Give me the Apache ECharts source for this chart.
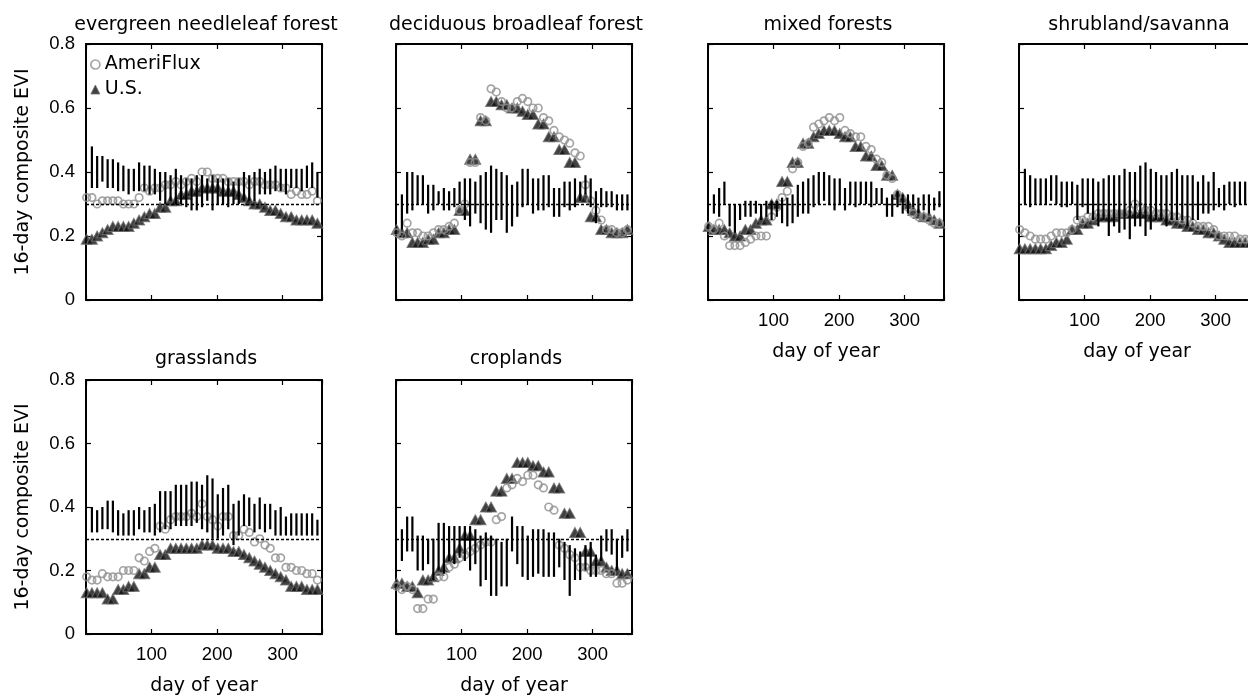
<!DOCTYPE html>
<html><head><meta charset="utf-8">
<script src="https://cdn.jsdelivr.net/npm/echarts@6/dist/echarts.min.js"></script>
<style>html,body{margin:0;padding:0;background:#fff}#c{width:1248px;height:695px}</style>
</head><body><div id="c"></div>
<script>
// ---------- data ----------
const days = [1,9,17,25,33,41,49,57,65,73,81,89,97,105,113,121,129,137,145,153,161,169,177,185,193,201,209,217,225,233,241,249,257,265,273,281,289,297,305,313,321,329,337,345,353];
const barDays = days.slice(1);
const titles = ['evergreen needleleaf forest','deciduous broadleaf forest','mixed forests','shrubland/savanna','grasslands','croplands'];
const xTickLabels = ['100','200','300'];
const yTickLabels = ['0','0.2','0.4','0.6','0.8'];
const xName = 'day of year';
const yName = '16-day composite EVI';
const seriesNames = ['AmeriFlux','U.S.'];

// evergreen needleleaf forest
const enfUS = [0.19,0.19,0.20,0.21,0.22,0.23,0.23,0.23,0.23,0.24,0.25,0.26,0.27,0.27,0.29,0.29,0.31,0.31,0.33,0.33,0.34,0.34,0.35,0.35,0.35,0.35,0.34,0.34,0.34,0.33,0.32,0.31,0.30,0.30,0.29,0.28,0.28,0.27,0.26,0.26,0.25,0.25,0.25,0.25,0.24];
const enfAF = [0.32,0.32,0.30,0.31,0.31,0.31,0.31,0.30,0.30,0.30,0.32,0.35,0.34,0.35,0.35,0.36,0.36,0.37,0.36,0.37,0.38,0.37,0.40,0.40,0.38,0.38,0.38,0.37,0.37,0.37,0.37,0.36,0.37,0.37,0.36,0.36,0.36,0.35,0.35,0.33,0.34,0.33,0.33,0.34,0.31];
const enfHi = [0.48,0.45,0.45,0.44,0.44,0.43,0.42,0.41,0.41,0.43,0.42,0.42,0.41,0.40,0.40,0.39,0.41,0.39,0.38,0.38,0.39,0.39,0.38,0.39,0.38,0.38,0.38,0.37,0.38,0.40,0.39,0.40,0.41,0.40,0.41,0.42,0.41,0.41,0.41,0.41,0.41,0.42,0.43,0.40];
const enfLo = [0.35,0.35,0.37,0.35,0.35,0.34,0.34,0.33,0.34,0.34,0.34,0.33,0.33,0.31,0.30,0.31,0.30,0.30,0.29,0.28,0.28,0.29,0.31,0.28,0.30,0.30,0.29,0.30,0.30,0.31,0.31,0.31,0.33,0.33,0.33,0.34,0.34,0.33,0.35,0.35,0.34,0.35,0.35,0.32];

// deciduous broadleaf forest
const dbfUS = [0.22,0.21,0.21,0.18,0.18,0.18,0.19,0.19,0.21,0.21,0.22,0.22,0.28,0.28,0.44,0.44,0.56,0.56,0.62,0.62,0.61,0.61,0.60,0.60,0.59,0.58,0.58,0.55,0.55,0.51,0.51,0.47,0.47,0.43,0.43,0.32,0.32,0.26,0.26,0.22,0.22,0.21,0.21,0.21,0.22];
const dbfAF = [0.21,0.20,0.24,0.21,0.21,0.20,0.20,0.21,0.22,0.22,0.23,0.24,0.28,0.30,0.43,0.43,0.57,0.56,0.66,0.65,0.62,0.60,0.60,0.62,0.63,0.62,0.60,0.60,0.57,0.56,0.53,0.51,0.50,0.49,0.46,0.45,0.36,0.31,0.28,0.25,0.22,0.22,0.21,0.21,0.22];
const dbfHi = [0.33,0.40,0.40,0.39,0.39,0.36,0.36,0.34,0.35,0.34,0.35,0.37,0.38,0.38,0.37,0.39,0.40,0.42,0.41,0.40,0.39,0.36,0.37,0.41,0.41,0.38,0.38,0.39,0.39,0.35,0.35,0.37,0.37,0.38,0.37,0.39,0.38,0.34,0.35,0.34,0.34,0.33,0.33,0.33];
const dbfLo = [0.22,0.27,0.28,0.30,0.30,0.27,0.28,0.30,0.28,0.28,0.29,0.30,0.25,0.23,0.27,0.24,0.22,0.21,0.25,0.25,0.21,0.23,0.26,0.29,0.30,0.27,0.28,0.28,0.29,0.26,0.26,0.29,0.28,0.29,0.31,0.33,0.29,0.24,0.29,0.29,0.29,0.28,0.28,0.28];

// mixed forests
const mfUS = [0.23,0.22,0.22,0.22,0.21,0.20,0.20,0.22,0.22,0.24,0.25,0.25,0.30,0.30,0.37,0.37,0.43,0.43,0.49,0.49,0.51,0.52,0.53,0.53,0.53,0.52,0.51,0.51,0.48,0.48,0.45,0.45,0.42,0.42,0.39,0.39,0.33,0.32,0.30,0.28,0.27,0.26,0.26,0.25,0.24];
const mfAF = [0.23,0.22,0.24,0.20,0.17,0.17,0.17,0.18,0.19,0.20,0.20,0.20,0.26,0.29,0.32,0.34,0.41,0.43,0.48,0.49,0.54,0.55,0.56,0.57,0.56,0.57,0.53,0.52,0.51,0.51,0.48,0.47,0.44,0.43,0.39,0.38,0.33,0.31,0.29,0.27,0.26,0.26,0.25,0.24,0.24];
const mfHi = [0.33,0.35,0.37,0.30,0.30,0.30,0.31,0.31,0.31,0.30,0.31,0.31,0.31,0.32,0.32,0.33,0.36,0.37,0.38,0.39,0.40,0.40,0.39,0.38,0.38,0.35,0.37,0.37,0.37,0.37,0.37,0.35,0.35,0.32,0.33,0.34,0.33,0.33,0.33,0.32,0.33,0.33,0.32,0.34];
const mfLo = [0.27,0.26,0.30,0.23,0.21,0.25,0.26,0.26,0.27,0.25,0.26,0.25,0.26,0.24,0.23,0.24,0.26,0.27,0.27,0.29,0.30,0.31,0.30,0.28,0.30,0.28,0.30,0.29,0.30,0.30,0.29,0.30,0.30,0.26,0.26,0.29,0.27,0.27,0.29,0.27,0.28,0.27,0.28,0.29];

// shrubland/savanna
const ssUS = [0.16,0.16,0.16,0.16,0.16,0.16,0.17,0.18,0.18,0.19,0.22,0.22,0.24,0.24,0.25,0.26,0.26,0.26,0.26,0.27,0.27,0.27,0.27,0.27,0.27,0.26,0.26,0.26,0.25,0.25,0.24,0.24,0.23,0.23,0.22,0.22,0.21,0.21,0.20,0.19,0.18,0.18,0.18,0.18,0.18];
const ssAF = [0.22,0.21,0.20,0.19,0.19,0.19,0.20,0.21,0.21,0.21,0.22,0.25,0.25,0.26,0.26,0.27,0.27,0.27,0.27,0.27,0.27,0.28,0.30,0.29,0.28,0.28,0.27,0.27,0.27,0.26,0.26,0.25,0.25,0.24,0.23,0.23,0.23,0.22,0.20,0.20,0.20,0.20,0.19,0.19,0.19];
const ssHi = [0.41,0.39,0.38,0.38,0.38,0.39,0.39,0.37,0.37,0.37,0.36,0.38,0.38,0.38,0.37,0.38,0.39,0.39,0.39,0.41,0.40,0.40,0.42,0.43,0.41,0.40,0.39,0.39,0.40,0.41,0.39,0.39,0.39,0.37,0.39,0.37,0.40,0.35,0.36,0.37,0.37,0.37,0.37,0.37];
const ssLo = [0.30,0.29,0.30,0.30,0.30,0.31,0.30,0.29,0.29,0.30,0.25,0.29,0.27,0.25,0.23,0.25,0.20,0.23,0.21,0.22,0.19,0.23,0.23,0.20,0.22,0.25,0.25,0.23,0.25,0.25,0.25,0.23,0.25,0.25,0.27,0.27,0.28,0.29,0.28,0.30,0.29,0.30,0.30,0.30];

// grasslands
const glUS = [0.13,0.13,0.13,0.13,0.11,0.11,0.14,0.14,0.15,0.15,0.19,0.19,0.21,0.21,0.25,0.25,0.27,0.27,0.27,0.27,0.27,0.27,0.28,0.28,0.28,0.27,0.27,0.27,0.26,0.26,0.25,0.24,0.23,0.22,0.21,0.20,0.19,0.18,0.17,0.15,0.15,0.15,0.14,0.14,0.14];
const glAF = [0.18,0.17,0.17,0.19,0.18,0.18,0.18,0.20,0.20,0.20,0.24,0.23,0.26,0.27,0.34,0.33,0.36,0.37,0.37,0.37,0.38,0.37,0.41,0.37,0.36,0.34,0.37,0.37,0.31,0.31,0.33,0.32,0.29,0.30,0.28,0.27,0.24,0.24,0.21,0.21,0.20,0.20,0.19,0.19,0.17];
const glHi = [0.40,0.39,0.40,0.42,0.42,0.39,0.38,0.39,0.39,0.40,0.39,0.40,0.41,0.45,0.45,0.45,0.47,0.47,0.47,0.48,0.48,0.47,0.50,0.49,0.44,0.46,0.47,0.41,0.42,0.44,0.43,0.41,0.43,0.41,0.41,0.39,0.40,0.37,0.38,0.38,0.38,0.38,0.38,0.36];
const glLo = [0.32,0.32,0.33,0.33,0.32,0.31,0.31,0.31,0.31,0.33,0.32,0.32,0.31,0.32,0.33,0.33,0.34,0.34,0.34,0.34,0.35,0.33,0.32,0.30,0.30,0.31,0.33,0.28,0.31,0.34,0.34,0.32,0.33,0.32,0.33,0.31,0.31,0.31,0.31,0.31,0.31,0.31,0.31,0.31];

// croplands
const crUS = [0.16,0.16,0.15,0.15,0.13,0.17,0.17,0.18,0.20,0.21,0.24,0.24,0.27,0.31,0.31,0.36,0.36,0.40,0.40,0.45,0.45,0.49,0.49,0.54,0.54,0.54,0.53,0.53,0.51,0.51,0.46,0.46,0.38,0.38,0.32,0.32,0.26,0.26,0.23,0.23,0.21,0.20,0.20,0.19,0.19];
const crAF = [0.15,0.14,0.15,0.14,0.08,0.08,0.11,0.11,0.18,0.18,0.21,0.22,0.24,0.25,0.26,0.27,0.28,0.29,0.29,0.36,0.37,0.46,0.47,0.49,0.48,0.50,0.50,0.47,0.46,0.40,0.39,0.28,0.27,0.25,0.24,0.21,0.21,0.20,0.20,0.20,0.19,0.19,0.16,0.16,0.17];
const crHi = [0.33,0.37,0.37,0.31,0.31,0.30,0.30,0.35,0.35,0.34,0.34,0.34,0.34,0.34,0.33,0.31,0.32,0.31,0.30,0.29,0.30,0.37,0.34,0.34,0.31,0.33,0.33,0.33,0.32,0.32,0.30,0.29,0.28,0.27,0.26,0.28,0.29,0.25,0.31,0.33,0.33,0.30,0.31,0.33];
const crLo = [0.23,0.26,0.26,0.20,0.20,0.22,0.17,0.20,0.19,0.23,0.22,0.24,0.23,0.20,0.22,0.15,0.17,0.12,0.12,0.15,0.15,0.26,0.22,0.18,0.17,0.18,0.19,0.18,0.18,0.18,0.21,0.17,0.12,0.17,0.17,0.20,0.18,0.18,0.23,0.26,0.25,0.20,0.24,0.26];

const refLine = 0.3;

// ---------- layout ----------
const panels = [
  {us:enfUS, af:enfAF, lo:enfLo, hi:enfHi, left:86,   top:44,  h:256, yLab:true,  xLab:false},
  {us:dbfUS, af:dbfAF, lo:dbfLo, hi:dbfHi, left:396,  top:44,  h:256, yLab:false, xLab:false},
  {us:mfUS,  af:mfAF,  lo:mfLo,  hi:mfHi,  left:708,  top:44,  h:256, yLab:false, xLab:true},
  {us:ssUS,  af:ssAF,  lo:ssLo,  hi:ssHi,  left:1019, top:44,  h:256, yLab:false, xLab:true},
  {us:glUS,  af:glAF,  lo:glLo,  hi:glHi,  left:86,   top:380, h:254, yLab:true,  xLab:true},
  {us:crUS,  af:crAF,  lo:crLo,  hi:crHi,  left:396,  top:380, h:254, yLab:false, xLab:true}
];
const W = 236;
const fontText = 'DejaVu Sans';
const fontNum = 'Liberation Sans';

const fmtX = v => { const s = String(Math.round(v)); return xTickLabels.includes(s) ? s : ''; };
const fmtY = v => { const t = yTickLabels.find(t => Math.abs(parseFloat(t) - v) < 1e-9); return t === undefined ? '' : t; };

const frame = {show:true, onZero:false, lineStyle:{color:'#000', width:2}};
const tick = {show:true, inside:true, length:5, lineStyle:{color:'#000', width:1.2}};

const usStyle = {color:'#111111', borderColor:'#707070', borderWidth:1};
const afStyle = {color:'rgba(0,0,0,0)', borderColor:'#8e8e8e', borderWidth:1.7};

const grids = [], xAxes = [], yAxes = [], series = [], titleOpt = [];
panels.forEach((p, k) => {
  grids.push({left:p.left, top:p.top, width:W, height:p.h, containLabel:false, outerBoundsMode:'none'});
  xAxes.push({gridIndex:k, type:'value', position:'bottom', min:0, max:360, interval:100,
    axisLine:frame, axisTick:tick, splitLine:{show:false},
    axisLabel:{show:p.xLab, margin:11, color:'#000', fontFamily:fontNum, fontSize:18.5, formatter:fmtX},
    name:p.xLab ? xName : '', nameLocation:'middle', nameGap:43,
    nameTextStyle:{color:'#000', fontFamily:fontText, fontSize:19}});
  xAxes.push({gridIndex:k, type:'value', position:'top', min:0, max:360, interval:100,
    axisLine:frame, axisTick:tick, splitLine:{show:false}, axisLabel:{show:false}});
  yAxes.push({gridIndex:k, type:'value', position:'left', min:0, max:0.8, interval:0.2,
    axisLine:frame, axisTick:tick, splitLine:{show:false},
    axisLabel:{show:p.yLab, margin:11, color:'#000', fontFamily:fontNum, fontSize:18.5, formatter:fmtY},
    name:p.yLab ? yName : '', nameLocation:'middle', nameGap:53,
    nameTextStyle:{color:'#000', fontFamily:fontText, fontSize:19}});
  yAxes.push({gridIndex:k, type:'value', position:'right', min:0, max:0.8, interval:0.2,
    axisLine:frame, axisTick:tick, splitLine:{show:false}, axisLabel:{show:false}});
  const xi = 2*k, yi = 2*k;
  series.push({type:'scatter', name:seriesNames[1], xAxisIndex:xi, yAxisIndex:yi,
    data:days.map((d,j) => [d, p.us[j]]), symbol:'triangle', symbolSize:[11,10],
    itemStyle:usStyle, clip:false, silent:true, z:2});
  series.push({type:'scatter', name:seriesNames[0], xAxisIndex:xi, yAxisIndex:yi,
    data:days.map((d,j) => [d, p.af[j]]), symbol:'circle', symbolSize:7.5,
    itemStyle:afStyle, clip:false, silent:true, z:3});
  series.push({type:'custom', name:'spread', xAxisIndex:xi, yAxisIndex:yi, silent:true, z:4, clip:false,
    data:barDays.map((d,j) => [d, p.lo[j], p.hi[j]]),
    encode:{x:0, y:[1,2]},
    renderItem:(params, api) => {
      const a = api.coord([api.value(0), api.value(1)]);
      const b = api.coord([api.value(0), api.value(2)]);
      return {type:'line', shape:{x1:a[0], y1:a[1], x2:b[0], y2:b[1]}, style:{stroke:'#000', lineWidth:2.2}};
    },
    markLine:{silent:true, symbol:['none','none'], label:{show:false}, animation:false,
      lineStyle:{color:'#000', width:1.4, type:[3,2]}, data:[{yAxis:refLine}]}
  });
  titleOpt.push({text:titles[k], left:p.left + W/2 - 3, top:p.top < 100 ? 11 : 345, textAlign:'center',
    textStyle:{color:'#000', fontFamily:fontText, fontSize:19, fontWeight:'normal'}});
});

const chart = echarts.init(document.getElementById('c'), null, {renderer:'canvas'});
chart.setOption({
  animation:false,
  backgroundColor:'#fff',
  title:titleOpt,
  legend:{show:true, orient:'vertical', left:90, top:55, itemWidth:9, itemHeight:9, itemGap:6, padding:0,
    selectedMode:false,
    textStyle:{color:'#000', fontFamily:fontText, fontSize:19},
    data:[{name:seriesNames[0], icon:'circle', itemStyle:afStyle},
          {name:seriesNames[1], icon:'triangle', itemStyle:usStyle}]},
  grid:grids, xAxis:xAxes, yAxis:yAxes, series:series
});
</script></body></html>
